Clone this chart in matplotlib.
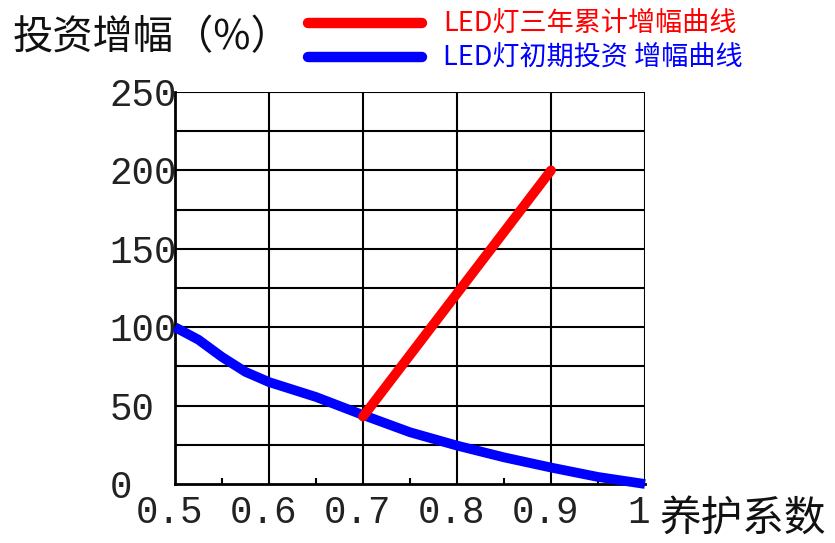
import matplotlib
matplotlib.use("Agg")
import matplotlib.pyplot as plt
import matplotlib.transforms as mtransforms
from matplotlib.lines import Line2D

# Maintenance factor and investment increase (%)
maint_factor = [0.5, 0.525, 0.55, 0.575, 0.6, 0.65, 0.7, 0.75, 0.8, 0.85, 0.9, 0.95, 1.0]
initial_increase = [100, 92, 81, 71.5, 65, 55.5, 44, 33, 24.5, 17, 10.5, 4.5, 0]

cum_factor = [0.7, 0.9]
cum_increase = [43, 200]

x_ticks = [0.5, 0.6, 0.7, 0.8, 0.9, 1.0]
x_ticklabels = ["0.5", "0.6", "0.7", "0.8", "0.9", "1"]
y_ticks = [0, 50, 100, 150, 200, 250]
y_ticklabels = ["0", "50", "100", "150", "200", "250"]

red_label = "LED灯三年累计增幅曲线"
blue_label = "LED灯初期投资 增幅曲线"
y_title = "投资增幅（%）"
x_title = "养护系数"

W, H = 835, 543
fig = plt.figure(figsize=(W / 100, H / 100), dpi=100)
fig.patch.set_facecolor("white")

cjk = ["Noto Sans CJK SC", "DejaVu Sans"]
num_font = ["Liberation Mono", "DejaVu Sans Mono"]

# axes placed in pixel units
left, right, top, bottom = 175, 645, 92, 484
ax = fig.add_axes([left / W, 1 - bottom / H, (right - left) / W, (bottom - top) / H])
ax.set_xlim(0.5, 1.0)
ax.set_ylim(0, 250)

# grid: every 0.1 horizontally, every 25 vertically
for xv in [0.6, 0.7, 0.8, 0.9, 1.0]:
    ax.axvline(xv, color="black", lw=1.5, zorder=1)
for yv in range(25, 251, 25):
    ax.axhline(yv, color="black", lw=1.5, zorder=1)

for side in ["top", "right"]:
    ax.spines[side].set_visible(False)
for side in ["left", "bottom"]:
    ax.spines[side].set_linewidth(2)
    ax.spines[side].set_color("black")

ax.set_xticks(x_ticks)
ax.set_xticklabels(x_ticklabels, fontfamily=num_font, fontsize=27, color="#222222")
ax.set_yticks(y_ticks)
ax.set_yticklabels(y_ticklabels, fontfamily=num_font, fontsize=27, color="#222222",
                   ha="left")
ax.set_xticks([0.55, 0.65, 0.75, 0.85, 0.95], minor=True)
ax.tick_params(axis="x", which="major", length=0, pad=8)
ax.tick_params(axis="y", which="major", length=0, pad=47)
ax.tick_params(axis="x", which="minor", direction="in", length=4.5, width=1.5)

shift = mtransforms.ScaledTranslation(-6 / 100, 0, fig.dpi_scale_trans)
for lbl in ax.get_xticklabels():
    lbl.set_transform(lbl.get_transform() + shift)

ax.plot(maint_factor, initial_increase, color="#0000ff", lw=7,
        solid_capstyle="butt", solid_joinstyle="round", clip_on=False, zorder=3)
ax.plot(cum_factor, cum_increase, color="#ff0000", lw=7,
        solid_capstyle="round", clip_on=False, zorder=4)

# titles
fig.text(13 / W, 1 - 38 / H, y_title, fontfamily=cjk, fontsize=29,
         ha="left", va="center", color="#111111")
fig.text(660 / W, 1 - 519 / H, x_title, fontfamily=cjk, fontsize=30,
         ha="left", va="center", color="#111111")

# legend drawn in figure pixels
for yy, col, txt in [(23, "#ff0000", red_label), (57, "#0000ff", blue_label)]:
    fig.add_artist(Line2D([308 / W, 422 / W], [1 - yy / H, 1 - yy / H],
                          color=col, lw=7.5, solid_capstyle="round",
                          transform=fig.transFigure))
    fig.text(443 / W, 1 - yy / H, txt, fontfamily=cjk, fontsize=19.5,
             ha="left", va="center", color=col)

fig.savefig("out.png", dpi=100, facecolor="white")
